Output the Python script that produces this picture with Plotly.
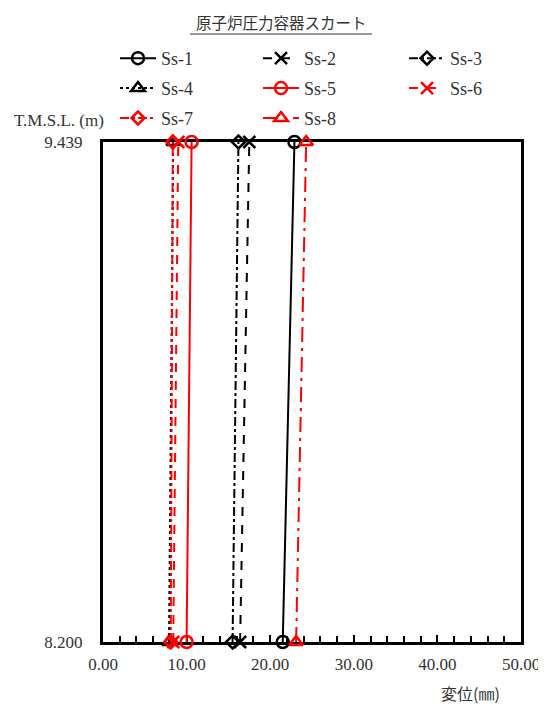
import plotly.graph_objects as go

# 高さ (T.M.S.L. m) と各ケースの変位 (mm)
height = [8.200, 9.439]
ss1 = [21.5, 22.9]
ss2 = [16.4, 17.5]
ss3 = [15.5, 16.2]
ss4 = [7.9, 8.4]
ss5 = [10.0, 10.6]
ss6 = [8.4, 9.0]
ss7 = [8.1, 8.35]
ss8 = [23.1, 24.3]

x_ticks = [0, 10, 20, 30, 40, 50]
x_ticktext = ["0.00", "10.00", "20.00", "30.00", "40.00", "50.00"]
y_ticktext = ["8.200", "9.439"]

FONT = "Liberation Serif"
JFONT = "Noto Sans CJK JP"
TXT = "#333"

# ページ余白(8px)を差し引いた図のサイズ
W, H = 538, 701

series = [
    # name, values, color, dash, symbol, legend
    ("Ss-1", ss1, "black", "solid", "circle-open", "legend"),
    ("Ss-2", ss2, "black", "dash", "x-thin-open", "legend2"),
    ("Ss-3", ss3, "black", "dashdot", "diamond-open", "legend3"),
    ("Ss-4", ss4, "black", "dot", "triangle-up-open", "legend"),
    ("Ss-5", ss5, "red", "solid", "circle-open", "legend2"),
    ("Ss-6", ss6, "red", "dash", "x-thin-open", "legend3"),
    ("Ss-7", ss7, "red", "dashdot", "diamond-open", "legend"),
    ("Ss-8", ss8, "red", "longdashdot", "triangle-up-open", "legend2"),
]

fig = go.Figure()
for name, vals, col, dash, sym, leg in series:
    size = 10 if "diamond" in sym else 12
    fig.add_trace(go.Scatter(
        x=vals, y=height, name=name, mode="lines+markers",
        line=dict(color=col, width=2, dash=dash),
        marker=dict(symbol=sym, size=size, color=col,
                    line=dict(color=col, width=2.5)),
        legend=leg, legendgroup=name, cliponaxis=False,
    ))

# 凡例は3列
leg_common = dict(
    orientation="v", xref="container", yref="container",
    xanchor="left", yanchor="top", y=1 - 32 / H,
    bgcolor="rgba(0,0,0,0)", tracegroupgap=3.5, itemwidth=36,
    font=dict(family=FONT, size=18, color=TXT),
)

fig.update_layout(
    width=W, height=H,
    margin=dict(l=95, r=25, t=134, b=67, autoexpand=False),
    plot_bgcolor="white", paper_bgcolor="white",
    font=dict(family=FONT, size=16, color=TXT),
    legend=dict(x=107 / W, **leg_common),
    legend2=dict(x=250 / W, **leg_common),
    legend3=dict(x=396 / W, **leg_common),
    xaxis=dict(
        range=[0, 50], tickvals=x_ticks, ticktext=x_ticktext,
        showgrid=False, zeroline=False, automargin=False,
        showline=True, linecolor="black", linewidth=3, mirror=True,
        ticks="inside", ticklen=7, tickwidth=2, tickcolor="black",
        minor=dict(dtick=2, ticks="inside", ticklen=6, tickwidth=2, tickcolor="black"),
        layer="below traces", ticklabelstandoff=5,
        tickfont=dict(family=FONT, size=17, color=TXT),
    ),
    yaxis=dict(
        range=[8.2, 9.439], tickvals=height, ticktext=y_ticktext,
        showgrid=False, zeroline=False, automargin=False,
        showline=True, linecolor="black", linewidth=3, mirror=True,
        ticks="", layer="below traces", ticklabelstandoff=14,
        tickfont=dict(family=FONT, size=17, color=TXT),
    ),
)

# 画面上のピクセル位置 -> paper座標
def px(x):
    return (x - 103) / 418

def py(y):
    return (642 - y) / 500

# タイトル(下線付き)
fig.add_annotation(
    text="原子炉圧力容器スカート", xref="paper", yref="paper",
    x=px(281), y=py(8.5), xanchor="center", yanchor="top", showarrow=False,
    font=dict(family=JFONT, size=15.5, color=TXT),
)
fig.add_shape(type="line", xref="paper", yref="paper",
              x0=px(190), x1=px(372), y0=py(34), y1=py(34),
              line=dict(color=TXT, width=1.2))

fig.add_annotation(
    text="T.M.S.L. (m)", xref="paper", yref="paper",
    x=px(59), y=py(121), xanchor="center", yanchor="middle", showarrow=False,
    font=dict(family=FONT, size=17, color=TXT),
)
fig.add_annotation(
    text="変位(㎜)", xref="paper", yref="paper",
    x=px(470), y=py(693), xanchor="center", yanchor="middle", showarrow=False,
    font=dict(family=JFONT, size=16, color=TXT),
)

fig.write_html("out.html")
